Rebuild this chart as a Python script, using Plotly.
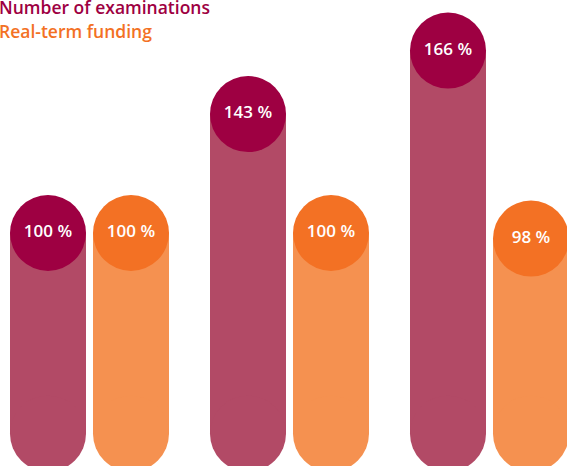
import plotly.graph_objects as go

# Data
groups = ["A", "B", "C"]
series_names = ["Number of examinations", "Real-term funding"]
examinations = [100, 143, 166]
funding = [100, 100, 98]

# Styles
bar_colors = ["#B24A66", "#F59150"]
dot_colors = ["#9E0042", "#F37124"]
CAP = 27.4          # centre of the rounded bottom end (axis units)
OFFSET = 0.2075
BAR_W = 0.38
DOT = 76

fig = go.Figure()
for k, (name, vals) in enumerate(zip(series_names, [examinations, funding])):
    xs = [i + (2 * k - 1) * OFFSET for i in range(len(groups))]
    fig.add_trace(go.Bar(
        x=xs, y=[v - CAP for v in vals], base=CAP, width=BAR_W,
        marker=dict(color=bar_colors[k], line=dict(width=0)),
        name=name, showlegend=False, hoverinfo="skip",
    ))
    fig.add_trace(go.Scatter(
        x=xs, y=[CAP] * len(xs), mode="markers",
        marker=dict(size=DOT, color=bar_colors[k], line=dict(width=0)),
        showlegend=False, hoverinfo="skip", cliponaxis=False,
    ))
for k, (name, vals) in enumerate(zip(series_names, [examinations, funding])):
    xs = [i + (2 * k - 1) * OFFSET for i in range(len(groups))]
    fig.add_trace(go.Scatter(
        x=xs, y=vals, mode="markers+text",
        marker=dict(size=DOT, color=dot_colors[k], line=dict(width=0)),
        text=[f"{v} %" for v in vals], textposition="middle center",
        textfont=dict(color="white", size=17, family="Open Sans", weight=600),
        name=name, showlegend=False, cliponaxis=False,
    ))

for k, name in enumerate(series_names):
    fig.add_annotation(
        xref="paper", yref="paper", x=-0.006, y=1 - k * 0.05 + 0.014,
        xanchor="left", yanchor="top", showarrow=False, text=name,
        font=dict(color=dot_colors[k], size=17.5, family="Open Sans", weight=600),
    )

fig.update_layout(
    width=567, height=466, margin=dict(l=0, r=0, t=0, b=0),
    paper_bgcolor="white", plot_bgcolor="white", barmode="overlay",
    xaxis=dict(range=[-0.4475, 2.3875], visible=False),
    yaxis=dict(range=[15.73, 184.27], visible=False),
    showlegend=False,
)
fig.write_html(
    "out.html",
    config={"displayModeBar": False},
    post_script="document.body.style.margin='0';document.body.style.overflow='hidden';",
)
